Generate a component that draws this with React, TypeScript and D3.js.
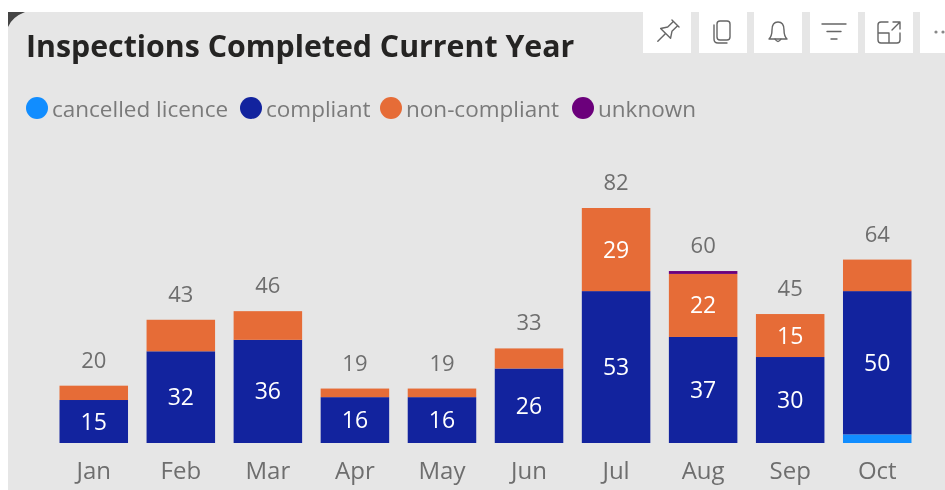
import React from "react";
import * as d3 from "d3";

const months = ["Jan","Feb","Mar","Apr","May","Jun","Jul","Aug","Sep","Oct"];
const cancelled = [0,0,0,0,0,0,0,0,0,3];
const compliant = [15,32,36,16,16,26,53,37,30,50];
const nonCompliant = [5,11,10,3,3,7,29,22,15,11];
const unknown = [0,0,0,0,0,0,0,1,0,0];
const seriesNames = ["cancelled licence","compliant","non-compliant","unknown"];
const seriesColors = ["#118DFF","#12239E","#E66C37","#6B007B"];
const legendX = [37,251,391,583];
const iconTiles = [643,699,754,810,865,920];

const W = 945, H = 490;
const FONT = "'Open Sans', sans-serif";
const rows = months.map((m,i)=>({m,a:cancelled[i],b:compliant[i],c:nonCompliant[i],d:unknown[i]}));
const stack = d3.stack<any>().keys(["a","b","c","d"])(rows);
const x = d3.scaleBand().domain(months).range([50.8,920.2]).paddingInner(0.213).paddingOuter(0.1);
const y = d3.scaleLinear().domain([0,82]).range([443,208]);

function Icon({i}:{i:number}){
  const s={fill:"none",stroke:"#666",strokeWidth:1.4,strokeLinejoin:"round" as const,strokeLinecap:"round" as const};
  const cx=iconTiles[i]+24;
  const g=`translate(${cx},32)`;
  if(i===0) return <g transform={`${g} rotate(45)`} {...s}><path d="M-5,-12 H5 M-3,-12 V-4 L-7,2 H7 L3,-4 V-12 M0,2 V13"/></g>;
  if(i===1) return <g transform={g} {...s}><rect x={-6} y={-11} width={13} height={19} rx={3}/><path d="M-9,-7 V7 Q-9,11 -5,11 H4"/></g>;
  if(i===2) return <g transform={g} {...s}><path d="M-9,7 Q-6,4 -6,-2 Q-6,-10 0,-10 Q6,-10 6,-2 Q6,4 9,7 Z"/><path d="M-3,7 Q0,12 3,7"/></g>;
  if(i===3) return <g transform={g} {...s}><path d="M-12,-8 H12 M-7,-0.5 H7 M-3,7 H3"/></g>;
  if(i===4) return <g transform={g} {...s}><path d="M-1,-10 H-8 Q-11,-10 -11,-7 V8 Q-11,11 -8,11 H8 Q11,11 11,8 V1 M-11,1 H0 V11 M4,-10 H11 V-3 M11,-10 L3,-2"/></g>;
  return <g fill="#888"><circle cx={936} cy={32} r={1.6}/><circle cx={943} cy={32} r={1.6}/></g>;
}

export default function App(){
  return (
    <svg width={W} height={H} viewBox={`0 0 ${W} ${H}`} style={{position:"fixed",left:0,top:0,background:"#fff",filter:"blur(0.45px)"}} fontFamily={FONT}>
      <rect x={8} y={12} width={W-8} height={H-12} fill="#E6E6E6"/>
      <path d="M8,12 H25 Q12,17 8,27 Z" fill="#444"/>
      {iconTiles.map((t,i)=><rect key={t} x={t} y={12} width={i===5?25:48} height={41} fill="#fff"/>)}
      {iconTiles.map((t,i)=><Icon key={t} i={i}/>)}
      <text x={26} y={57} fontSize={30.3} fontWeight={700} fill="#252423">Inspections Completed Current Year</text>
      {seriesNames.map((n,i)=>(
        <g key={n}>
          <circle cx={legendX[i]} cy={108} r={11} fill={seriesColors[i]}/>
          <text x={legendX[i]+15} y={117} fontSize={22.5} fill="#7a7a7a">{n}</text>
        </g>
      ))}
      {stack.map((s,k)=>s.map((p,i)=>{
        const v=p[1]-p[0];
        if(!v) return null;
        const bx=x(months[i])!;
        return <g key={`${k}-${i}`}>
          <rect x={bx} y={y(p[1])} width={x.bandwidth()} height={y(p[0])-y(p[1])} fill={seriesColors[k]}/>
          {v>=15 && <text x={bx+x.bandwidth()/2} y={(y(p[0])+y(p[1]))/2+8} textAnchor="middle" fontSize={23} fill="#fff">{v}</text>}
        </g>;
      }))}
      {rows.map(r=>{
        const t=r.a+r.b+r.c+r.d;
        return <text key={r.m} x={x(r.m)!+x.bandwidth()/2} y={y(t)-18} textAnchor="middle" fontSize={22} fill="#6e6e6e">{t}</text>;
      })}
      {months.map(m=><text key={m} x={x(m)!+x.bandwidth()/2} y={479} textAnchor="middle" fontSize={24} fill="#6e6e6e">{m}</text>)}
    </svg>
  );
}
